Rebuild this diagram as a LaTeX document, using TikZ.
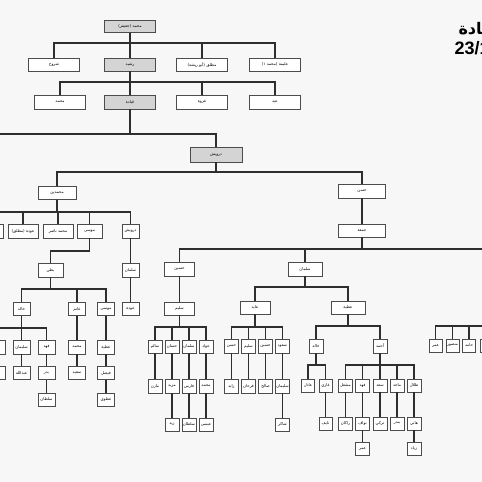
\documentclass[tikz,border=0pt]{standalone}
\usepackage{fontspec}
\usepackage{tikz}
\usetikzlibrary{positioning}
\TeXXeTstate=1
\newfontfamily\arabicfont[Script=Arabic]{DejaVu Sans}
\newfontfamily\datefont{Liberation Sans}
\definecolor{treeline}{HTML}{2E2E2E}
\definecolor{treegrey}{HTML}{D4D4D4}
\definecolor{paper}{HTML}{F7F7F7}
\newcommand{\kin}[3]{\coordinate (bus) at (0,#2);
  \foreach \c in {#3}{\draw[link] (#1.south) |- (\c.north |- bus) -- (\c.north);}}

\begin{document}
\begin{tikzpicture}[x=1pt, y=-1pt,
    box/.style={draw=black!70, fill=white, line width=0.8pt, inner sep=0.5pt, minimum height=13,
      font=\arabicfont\fontsize{4}{5}\selectfont,
      execute at begin node=\beginR, execute at end node=\endR},
    gbox/.style={box, fill=treegrey},
    wide/.style={box, minimum width=51},
    kid/.style={box, minimum width=14},
    link/.style={draw=treeline, line width=1.4pt}
]
\fill[paper] (0,0) rectangle (482,482);
\useasboundingbox (0,0) rectangle (482,482);

\node[anchor=west, font=\arabicfont\bfseries\fontsize{16}{19}\selectfont] (title) at (455,30) {\beginR قيادة\endR};
\node[anchor=west, font=\datefont\bfseries\fontsize{18}{21}\selectfont] (date) at (451,48) {23/12/2013};

% top of the tree
\node[wide, gbox, minimum height=12] (n0) at (130,26.5) {محمد (جعيفر)};
\node[wide] (a1) at (54,64.5) {شروخ};
\node[wide, gbox] (a2) at (130,64.5) {رشيد};
\node[wide] (a3) at (202,64.5) {مطلق (أبو ريشة)};
\node[wide] (a4) at (275,64.5) {عليمة (محمد ١)};
\node[wide, minimum height=14] (b1) at (60,102) {محمد};
\node[wide, gbox, minimum height=14] (b2) at (130,102) {قيادة};
\node[wide, minimum height=14] (b3) at (202,102) {غزوة};
\node[wide, minimum height=14] (b4) at (275,102) {عيد};
\node[gbox, minimum width=52, minimum height=15] (c0) at (216,154.5) {درويش};
\node[box, minimum width=38] (d1) at (57,193) {محمدين};
\node[box, minimum width=47, minimum height=14] (d2) at (362,191) {حسن};
\node[box, minimum width=47] (e1) at (362,230.5) {جمعة};
\node[box, minimum width=30, minimum height=14] (f1) at (179.5,269) {حسين};
\node[box, minimum width=34, minimum height=14] (f2) at (305,269) {سلمان};

% left branch
\node[box, minimum width=26, minimum height=14] (g0) at (-10,231) {سالم};
\node[box, minimum width=30, minimum height=14] (g1) at (23,231) {عودة (مطلق)};
\node[box, minimum width=30, minimum height=14] (g2) at (58,231) {محمد ناصر};
\node[box, minimum width=25, minimum height=14] (g3) at (89.5,231) {موسى};
\node[box, minimum width=17, minimum height=14] (g4) at (130.5,231) {درويش};
\node[box, minimum width=25, minimum height=14] (h1) at (50.5,270) {بطي};
\node[box, minimum width=17, minimum height=14] (h2) at (130.5,270) {سلمان};
\node[box, minimum width=17] (h3) at (130.5,309) {عودة};
\node[box, minimum width=17] (i1) at (21.5,309) {خالد};
\node[box, minimum width=17] (i2) at (77,309) {غانم};
\node[box, minimum width=17] (i3) at (106,309) {موسى};
\node[box, minimum width=17, minimum height=14] (j0) at (-3.5,347) {حمد};
\node[box, minimum width=17, minimum height=14] (j1) at (21.5,347) {سليمان};
\node[box, minimum width=17, minimum height=14] (j2) at (46.5,347) {فهد};
\node[box, minimum width=17, minimum height=14] (j3) at (77,347) {محمد};
\node[box, minimum width=17, minimum height=14] (j4) at (106,347) {عطية};
\node[box, minimum width=17] (k0) at (-3.5,373) {علي};
\node[box, minimum width=17] (k1) at (21.5,373) {عبدالله};
\node[box, minimum width=17] (k2) at (46.5,373) {بدر};
\node[box, minimum width=17] (k3) at (77,373) {سعيد};
\node[box, minimum width=17] (k4) at (106,373) {فيصل};
\node[box, minimum width=17] (l2) at (46.5,399.5) {سلطان};
\node[box, minimum width=17] (l4) at (106,399.5) {عطوي};

% middle branch
\node[box, minimum width=30] (m0) at (179.5,308.5) {سليم};
\node[kid] (n1) at (155,346.5) {سالم};
\node[kid] (n2) at (172,346.5) {حسان};
\node[kid] (n3) at (189,346.5) {سلمان};
\node[kid] (n4) at (206,346.5) {عواد};
\node[kid, minimum height=14] (o1) at (155,386) {مازن};
\node[kid, minimum height=14] (o2) at (172,386) {مزيد};
\node[kid, minimum height=14] (o3) at (189,386) {فارس};
\node[kid, minimum height=14] (o4) at (206,386) {محمد};
\node[kid] (p2) at (172,424.5) {زيد};
\node[kid] (p3) at (189,424.5) {سلطان};
\node[kid] (p4) at (206,424.5) {عيسى};

% right branch
\node[box, minimum width=30] (q1) at (255,307.5) {عايد};
\node[box, minimum width=34] (q2) at (348,307.5) {عطية};
\node[kid, minimum height=14] (r1) at (231.5,346) {حسن};
\node[kid, minimum height=14] (r2) at (248.5,346) {سليم};
\node[kid, minimum height=14] (r3) at (265.5,346) {حسين};
\node[kid, minimum height=14] (r4) at (282.5,346) {سعود};
\node[kid, minimum height=14] (s1) at (231.5,386) {زايد};
\node[kid, minimum height=14] (s2) at (248.5,386) {فرحان};
\node[kid, minimum height=14] (s3) at (265.5,386) {صالح};
\node[kid, minimum height=14] (s4) at (282.5,386) {سليمان};
\node[kid] (t4) at (282.5,424.5) {شاكر};
\node[kid, minimum height=14] (u1) at (316,346) {خالد};
\node[kid, minimum height=14] (u2) at (380,346) {أحمد};
\node[kid, minimum width=13] (v1) at (308,385.5) {عادل};
\node[kid, minimum width=13] (v2) at (325.5,385.5) {غازي};
\node[kid, minimum width=13] (w2) at (325.5,423.5) {نايف};
\node[kid] (x1) at (345.5,385.5) {مشعل};
\node[kid] (x2) at (362.5,385.5) {فهد};
\node[kid] (x3) at (380,385.5) {سعد};
\node[kid] (x4) at (397,385.5) {ماجد};
\node[kid] (x5) at (414,385.5) {طلال};
\node[kid] (y1) at (345.5,423.5) {راكان};
\node[kid] (y2) at (362.5,423.5) {نواف};
\node[kid] (y3) at (380,423.5) {تركي};
\node[kid] (y4) at (397,423.5) {بندر};
\node[kid] (y5) at (414,423.5) {هاني};
\node[kid] (z2) at (362.5,448.5) {عمر};
\node[kid] (z5) at (414,448.5) {زياد};
\node[kid, minimum width=13] (rr1) at (435.5,345.5) {عمر};
\node[kid, minimum width=13] (rr2) at (452.5,345.5) {منصور};
\node[kid, minimum width=13] (rr3) at (469,345.5) {حامد};
\node[kid, minimum width=13] (rr4) at (487,345.5) {ياسر};

% connectors
\coordinate (edgeA) at (-2,134);
\coordinate (edgeB) at (490,249);
\coordinate (edgeD) at (490,326);
\kin{n0}{43}{a1,a2,a3,a4}
\kin{a2}{82}{b1,b2,b3,b4}
\draw[link] (b2.south) |- (edgeA);
\kin{b2}{134}{c0}
\kin{c0}{172}{d1,d2}
\draw[link] (e1.south) |- (edgeB);
\kin{e1}{249}{f1,f2}
\kin{d1}{212}{g0,g1,g2,g3,g4}
\kin{g3}{251}{h1}
\kin{h1}{289}{i1,i2,i3}
\kin{i1}{328}{j0,j1,j2}
\kin{m0}{327}{n1,n2,n3,n4}
\kin{f2}{287}{q1,q2}
\kin{q1}{327}{r1,r2,r3,r4}
\kin{q2}{326}{u1,u2}
\kin{u1}{365}{v1,v2}
\kin{u2}{365}{x1,x2,x3,x4,x5}
\foreach \c in {rr1,rr2,rr3,rr4} \draw[link] (edgeD) -| (\c.north);
\foreach \a/\b in {d2/e1, g4/h2, h2/h3, i2/j3, i3/j4, j0/k0, j1/k1, j2/k2, j3/k3, j4/k4,
    k2/l2, k4/l4, f1/m0, n1/o1, n2/o2, n3/o3, n4/o4, o2/p2, o3/p3, o4/p4,
    r1/s1, r2/s2, r3/s3, r4/s4, s4/t4, v2/w2, x1/y1, x2/y2, x3/y3, x4/y4, x5/y5, y2/z2, y5/z5}
  \draw[link] (\a.south) -- (\b.north);
\end{tikzpicture}
\end{document}
